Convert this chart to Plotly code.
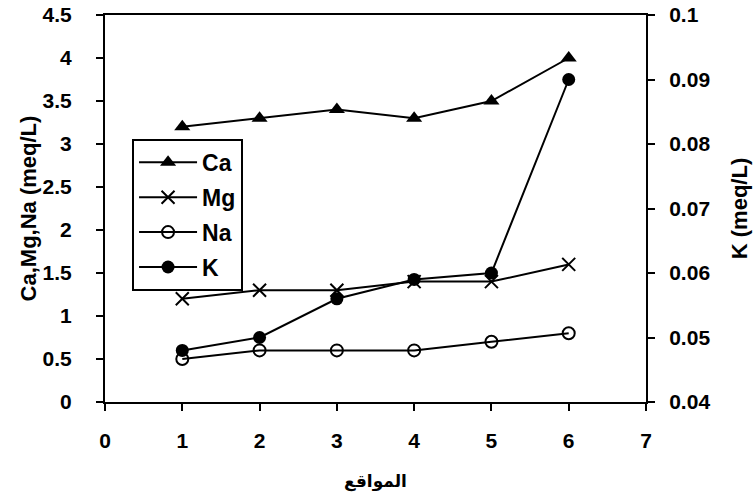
import plotly.graph_objects as go

# Sampling sites along the x axis
sites = [1, 2, 3, 4, 5, 6]

# Ion concentrations (meq/L)
ca = [3.2, 3.3, 3.4, 3.3, 3.5, 4.0]
mg = [1.2, 1.3, 1.3, 1.4, 1.4, 1.6]
na = [0.5, 0.6, 0.6, 0.6, 0.7, 0.8]
k = [0.048, 0.050, 0.056, 0.059, 0.060, 0.090]

x_ticks = [0, 1, 2, 3, 4, 5, 6, 7]
x_labels = ["0", "1", "2", "3", "4", "5", "6", "7"]
left_ticks = [0, 0.5, 1, 1.5, 2, 2.5, 3, 3.5, 4, 4.5]
left_labels = ["0", "0.5", "1", "1.5", "2", "2.5", "3", "3.5", "4", "4.5"]
right_ticks = [0.04, 0.05, 0.06, 0.07, 0.08, 0.09, 0.1]
right_labels = ["0.04", "0.05", "0.06", "0.07", "0.08", "0.09", "0.1"]


def bold(labels):
    return ["<b>%s</b>" % s for s in labels]


FONT = "Arial, Liberation Sans, sans-serif"
line = dict(color="black", width=2)

fig = go.Figure()
fig.add_trace(go.Scatter(
    x=sites, y=ca, name="<b>Ca</b>", mode="lines+markers", line=line, legendgroup="ca",
    marker=dict(symbol="triangle-up", size=14, color="black")))
fig.add_trace(go.Scatter(
    x=sites, y=mg, name="<b>Mg</b>", mode="lines+markers", line=line, legendgroup="mg",
    marker=dict(symbol="x-thin-open", size=13, color="black",
                line=dict(color="black", width=2))))
fig.add_trace(go.Scatter(
    x=sites, y=na, name="<b>Na</b>", mode="lines+markers", line=line, legendgroup="na",
    marker=dict(symbol="circle-open", size=12, color="black",
                line=dict(color="black", width=2))))
fig.add_trace(go.Scatter(
    x=sites, y=k, name="<b>K</b>", mode="lines+markers", line=line, legendgroup="k",
    yaxis="y2", marker=dict(symbol="circle", size=13, color="black")))

axis_common = dict(
    showline=True, linecolor="black", linewidth=2,
    ticks="outside", ticklen=7, tickwidth=2, tickcolor="black",
    showgrid=False, zeroline=False, automargin=False,
    tickfont=dict(family=FONT, size=21, color="black"),
)
title_font = dict(family=FONT, size=22, color="black")

fig.update_layout(
    width=755, height=499,
    margin=dict(l=105, r=109, t=15, b=97, autoexpand=False),
    paper_bgcolor="white", plot_bgcolor="white",
    xaxis=dict(
        range=[0, 7], tickvals=x_ticks, ticktext=bold(x_labels),
        mirror=True, ticklabelstandoff=12,
        title=dict(text="<b>المواقع</b>", standoff=24,
                   font=dict(family="DejaVu Sans, sans-serif",
                             size=17, color="black")),
        **axis_common),
    yaxis=dict(
        range=[0, 4.5], tickvals=left_ticks, ticktext=bold(left_labels),
        ticklabelstandoff=20,
        title=dict(text="<b>Ca,Mg,Na (meq/L)</b>", standoff=0, font=title_font),
        **axis_common),
    yaxis2=dict(
        range=[0.04, 0.1], tickvals=right_ticks, ticktext=bold(right_labels),
        overlaying="y", side="right", ticklabelstandoff=10,
        title=dict(text="<b>K (meq/L)</b>", standoff=22, font=title_font),
        **axis_common),
    legend=dict(
        x=0.05, y=0.68, xanchor="left", yanchor="top",
        bgcolor="white", bordercolor="black", borderwidth=2,
        itemwidth=58, tracegroupgap=2,
        font=dict(family=FONT, size=23, color="black"),
    ),
    showlegend=True,
)

fig.write_html("out.html")
